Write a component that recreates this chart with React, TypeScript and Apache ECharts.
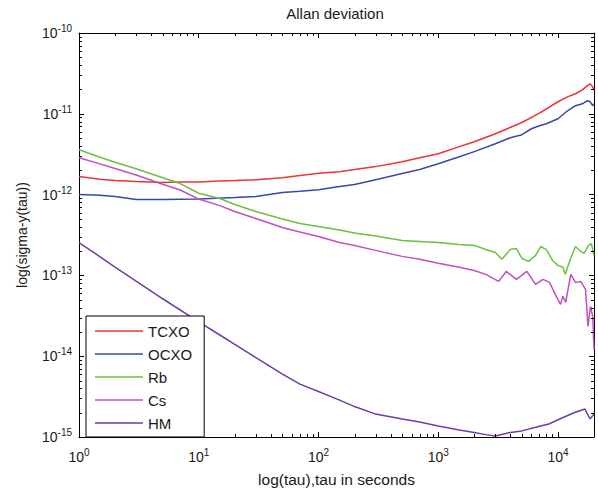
import React, { useEffect, useRef } from 'react';
import * as echarts from 'echarts';

const X_MIN = 1;
const X_MAX = 20000;
const Y_MIN = 1e-15;
const Y_MAX = 1e-10;

const titleText = 'Allan deviation';
const xName = 'log(tau),tau in seconds';
const yName = 'log(sigma-y(tau))';
const seriesNames = ['TCXO', 'OCXO', 'Rb', 'Cs', 'HM'];
const seriesColors = ['#ee3333', '#3a46b0', '#6cc040', '#c050c0', '#6c3cac'];

const tcxoTau = [1, 1.5, 2, 3, 5, 7, 10, 15, 20, 30, 50, 70, 100, 150, 200, 300, 500, 700, 1000, 1500, 2000, 3000, 5000, 7000, 10000, 12000, 14000, 16000, 17500, 18500, 19500, 20000];
const tcxoAdev = [1.67e-12, 1.55e-12, 1.49e-12, 1.45e-12, 1.41e-12, 1.43e-12, 1.43e-12, 1.47e-12, 1.49e-12, 1.53e-12, 1.62e-12, 1.72e-12, 1.84e-12, 1.92e-12, 2.04e-12, 2.22e-12, 2.55e-12, 2.86e-12, 3.21e-12, 3.92e-12, 4.51e-12, 5.66e-12, 7.8e-12, 1.02e-11, 1.41e-11, 1.62e-11, 1.77e-11, 1.98e-11, 2.22e-11, 2.35e-11, 2.16e-11, 1.98e-11];

const ocxoTau = [1, 1.5, 2, 3, 5, 10, 20, 30, 50, 70, 100, 150, 200, 300, 500, 700, 1000, 1500, 2000, 3000, 4000, 5000, 6000, 7000, 8000, 10000, 12000, 14000, 16000, 17500, 18500, 19500, 20000];
const ocxoAdev = [1.0e-12, 9.8e-13, 9.5e-13, 8.7e-13, 8.68e-13, 8.8e-13, 9.19e-13, 9.45e-13, 1.06e-12, 1.10e-12, 1.15e-12, 1.26e-12, 1.33e-12, 1.53e-12, 1.82e-12, 2.04e-12, 2.41e-12, 2.94e-12, 3.40e-12, 4.26e-12, 5.06e-12, 5.51e-12, 6.53e-12, 7.11e-12, 7.53e-12, 8.68e-12, 1.09e-11, 1.26e-11, 1.33e-11, 1.45e-11, 1.42e-11, 1.26e-11, 1.33e-11];

const rbTau = [1, 1.5, 2, 3, 5, 7, 10, 15, 20, 30, 50, 70, 100, 150, 200, 300, 500, 700, 1000, 1500, 2000, 2500, 3000, 3400, 4000, 4500, 5000, 5700, 6500, 7200, 8000, 9000, 10000, 11000, 11500, 12500, 14000, 15500, 16500, 18000, 19000, 20000];
const rbAdev = [3.59e-12, 2.90e-12, 2.52e-12, 2.09e-12, 1.62e-12, 1.37e-12, 1.04e-12, 8.93e-13, 7.53e-13, 6.17e-13, 4.99e-13, 4.39e-13, 4.03e-13, 3.65e-13, 3.35e-13, 3.08e-13, 2.70e-13, 2.63e-13, 2.55e-13, 2.41e-13, 2.35e-13, 2.09e-13, 1.92e-13, 1.58e-13, 2.09e-13, 2.15e-13, 1.62e-13, 1.49e-13, 1.77e-13, 2.28e-13, 2.09e-13, 1.53e-13, 1.33e-13, 1.26e-13, 1.03e-13, 1.49e-13, 2.28e-13, 1.98e-13, 1.87e-13, 2.35e-13, 2.48e-13, 1.77e-13];

const csTau = [1, 1.5, 2, 3, 5, 7, 10, 15, 20, 30, 50, 70, 100, 150, 200, 300, 500, 700, 1000, 1500, 2000, 2500, 3200, 3700, 4500, 5500, 6500, 7500, 8500, 9500, 10500, 11000, 11600, 12800, 14000, 15500, 17000, 17800, 18700, 19500, 20000];
const csAdev = [2.86e-12, 2.4e-12, 2.1e-12, 1.75e-12, 1.34e-12, 1.14e-12, 8.8e-13, 7.31e-13, 6.17e-13, 5.06e-13, 3.92e-13, 3.44e-13, 3.03e-13, 2.55e-13, 2.35e-13, 2.04e-13, 1.72e-13, 1.58e-13, 1.41e-13, 1.26e-13, 1.15e-13, 1.03e-13, 8.43e-14, 1.12e-13, 8.93e-14, 1.12e-13, 7.74e-14, 8.93e-14, 8.20e-14, 5.82e-14, 4.39e-14, 5.51e-14, 4.65e-14, 1.03e-13, 8.20e-14, 8.43e-14, 6.71e-14, 2.34e-14, 4.14e-14, 3.12e-14, 1.22e-14];

const hmTau = [1, 1.5, 2, 3, 5, 10, 15, 20, 30, 50, 70, 100, 150, 200, 300, 500, 700, 1000, 1500, 2000, 2500, 3000, 4000, 5000, 6400, 8400, 10800, 13800, 16800, 18500, 20000];
const hmAdev = [2.55e-13, 1.70e-13, 1.27e-13, 8.48e-14, 5.14e-14, 2.66e-14, 1.83e-14, 1.40e-14, 9.62e-15, 6.00e-15, 4.51e-15, 3.65e-15, 2.86e-15, 2.38e-15, 1.92e-15, 1.67e-15, 1.53e-15, 1.37e-15, 1.22e-15, 1.14e-15, 1.07e-15, 1.03e-15, 1.14e-15, 1.19e-15, 1.31e-15, 1.45e-15, 1.72e-15, 2.01e-15, 2.22e-15, 1.67e-15, 1.92e-15];

const seriesTau = [tcxoTau, ocxoTau, rbTau, csTau, hmTau];
const seriesAdev = [tcxoAdev, ocxoAdev, rbAdev, csAdev, hmAdev];

const FONT = '"Liberation Sans", Arial, Helvetica, sans-serif';
const TEXT_COLOR = '#1a1a1a';
const MAJOR = 5;
const MINOR = 3;

function minorTicks(lo: number, hi: number): number[] {
  const out: number[] = [];
  const k0 = Math.floor(Math.log10(lo));
  const k1 = Math.ceil(Math.log10(hi));
  for (let k = k0; k <= k1; k++) {
    for (let m = 2; m <= 9; m++) {
      const v = m * Math.pow(10, k);
      if (v > lo * 1.0001 && v < hi * 0.9999) out.push(v);
    }
  }
  return out;
}

const powLabel = (v: number) => {
  const e = Math.log10(v);
  const r = Math.round(e);
  if (Math.abs(e - r) > 1e-6) return '';
  return `{b|10}{s|${r}}`;
};

const richLabel = {
  b: { fontSize: 14, fontFamily: FONT, color: TEXT_COLOR },
  s: { fontSize: 10, fontFamily: FONT, color: TEXT_COLOR, padding: [0, 0, 9, 0] },
};

export default function App() {
  const ref = useRef<HTMLDivElement>(null);

  useEffect(() => {
    if (!ref.current) return;
    const chart = echarts.init(ref.current, undefined, { renderer: 'svg' });

    const lineSeries = seriesNames.map((name, i) => ({
      name,
      type: 'line',
      xAxisIndex: 0,
      yAxisIndex: 0,
      data: seriesTau[i].map((t, j) => [t, seriesAdev[i][j]]),
      symbol: 'none',
      showSymbol: false,
      smooth: false,
      lineStyle: { color: seriesColors[i], width: 1.5 },
      itemStyle: { color: seriesColors[i] },
      z: 2,
    }));

    const xMinorData = minorTicks(X_MIN, X_MAX).map((v) => [v, Y_MIN]);
    const yMinorData = minorTicks(Y_MIN, Y_MAX).map((v) => [X_MIN, v]);

    const tickStyle = { stroke: '#000', lineWidth: 1 };

    const option: any = {
      animation: false,
      backgroundColor: '#fff',
      grid: { left: 79, right: 4, top: 33, bottom: 54, containLabel: false, show: false },
      graphic: [
        {
          type: 'text',
          x: 335,
          y: 13,
          style: {
            text: titleText,
            fontSize: 15,
            fontFamily: FONT,
            fill: TEXT_COLOR,
            textAlign: 'center',
            textVerticalAlign: 'middle',
          },
        },
      ],
      legend: {
        data: seriesNames,
        orient: 'vertical',
        left: 86,
        top: 316,
        icon: 'rect',
        itemWidth: 48,
        itemHeight: 1.6,
        itemGap: 7,
        padding: [7, 12, 6, 9],
        backgroundColor: '#fff',
        borderColor: '#000',
        borderWidth: 1,
        borderRadius: 0,
        textStyle: { fontSize: 15, lineHeight: 16, fontFamily: FONT, color: TEXT_COLOR },
        z: 10,
      },
      xAxis: [
        {
          type: 'log',
          logBase: 10,
          min: X_MIN,
          max: X_MAX,
          position: 'bottom',
          name: xName,
          nameLocation: 'middle',
          nameGap: 34,
          nameTextStyle: { fontSize: 15.5, fontFamily: FONT, color: TEXT_COLOR },
          axisLine: { show: true, lineStyle: { color: '#000', width: 1 } },
          axisTick: { show: true, inside: true, length: MAJOR, lineStyle: { color: '#000' } },
          axisLabel: { show: true, margin: 10, formatter: powLabel, rich: richLabel, showMaxLabel: false },
          splitLine: { show: false },
        },
        {
          type: 'log',
          logBase: 10,
          min: X_MIN,
          max: X_MAX,
          position: 'top',
          axisLine: { show: true, lineStyle: { color: '#000', width: 1 } },
          axisTick: { show: true, inside: true, length: MAJOR, lineStyle: { color: '#000' } },
          axisLabel: { show: false },
          splitLine: { show: false },
        },
      ],
      yAxis: [
        {
          type: 'log',
          logBase: 10,
          min: Y_MIN,
          max: Y_MAX,
          position: 'left',
          name: yName,
          nameLocation: 'middle',
          nameGap: 50,
          nameRotate: 90,
          nameTextStyle: { fontSize: 14, fontFamily: FONT, color: TEXT_COLOR },
          axisLine: { show: true, lineStyle: { color: '#000', width: 1 } },
          axisTick: { show: true, inside: true, length: MAJOR, lineStyle: { color: '#000' } },
          axisLabel: { show: true, margin: 7, formatter: powLabel, rich: richLabel },
          splitLine: { show: false },
        },
        {
          type: 'log',
          logBase: 10,
          min: Y_MIN,
          max: Y_MAX,
          position: 'right',
          axisLine: { show: true, lineStyle: { color: '#000', width: 1 } },
          axisTick: { show: true, inside: true, length: MAJOR, lineStyle: { color: '#000' } },
          axisLabel: { show: false },
          splitLine: { show: false },
        },
      ],
      series: [
        ...lineSeries,
        {
          name: 'xMinorTicks',
          type: 'custom',
          xAxisIndex: 0,
          yAxisIndex: 0,
          silent: true,
          clip: false,
          z: 5,
          data: xMinorData,
          renderItem: (_params: any, api: any) => {
            const v = api.value(0);
            const b = api.coord([v, Y_MIN]);
            const t = api.coord([v, Y_MAX]);
            const x = Math.round(b[0]) + 0.5;
            return {
              type: 'group',
              children: [
                { type: 'line', shape: { x1: x, y1: b[1], x2: x, y2: b[1] - MINOR }, style: tickStyle },
                { type: 'line', shape: { x1: x, y1: t[1], x2: x, y2: t[1] + MINOR }, style: tickStyle },
              ],
            };
          },
        },
        {
          name: 'yMinorTicks',
          type: 'custom',
          xAxisIndex: 0,
          yAxisIndex: 0,
          silent: true,
          clip: false,
          z: 5,
          data: yMinorData,
          renderItem: (_params: any, api: any) => {
            const v = api.value(1);
            const l = api.coord([X_MIN, v]);
            const r = api.coord([X_MAX, v]);
            const y = Math.round(l[1]) + 0.5;
            return {
              type: 'group',
              children: [
                { type: 'line', shape: { x1: l[0], y1: y, x2: l[0] + MINOR, y2: y }, style: tickStyle },
                { type: 'line', shape: { x1: r[0], y1: y, x2: r[0] - MINOR, y2: y }, style: tickStyle },
              ],
            };
          },
        },
      ],
    };

    chart.setOption(option);
    return () => {
      chart.dispose();
    };
  }, []);

  return (
    <div
      ref={ref}
      style={{ position: 'absolute', left: 0, top: 0, width: 598, height: 492, background: '#fff' }}
    />
  );
}
